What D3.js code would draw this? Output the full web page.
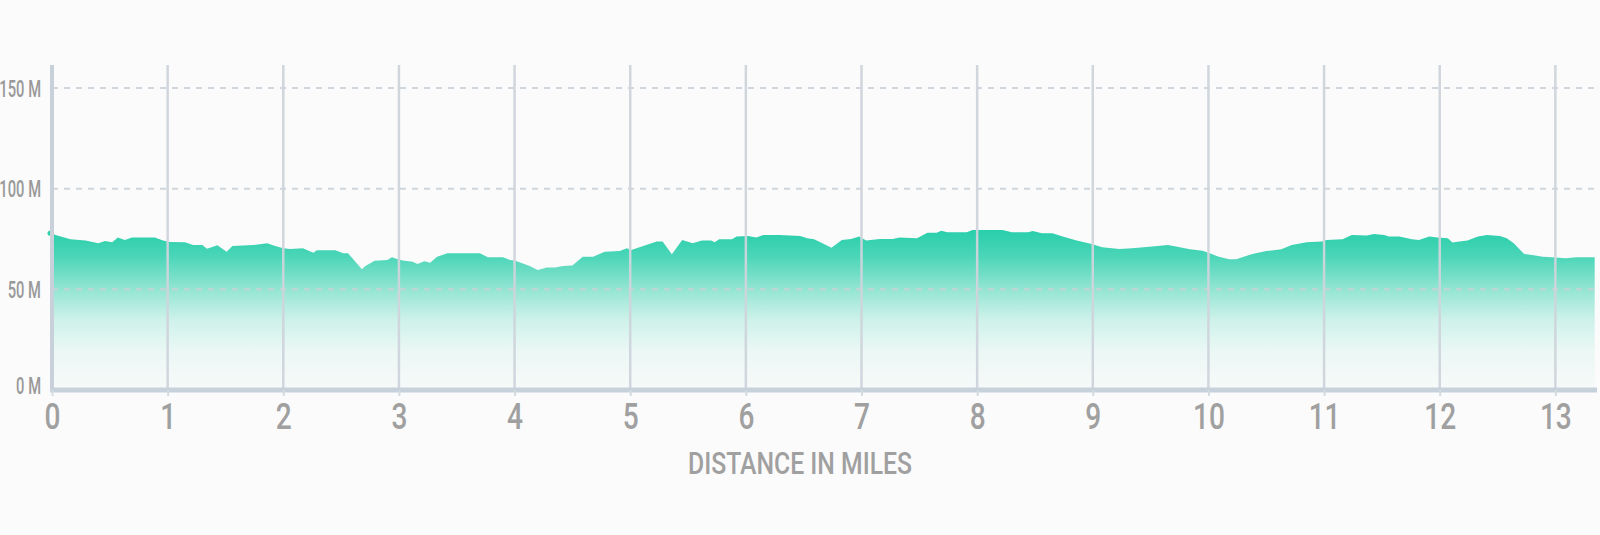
<!DOCTYPE html>
<html>
<head>
<meta charset="utf-8">
<script src="https://cdn.jsdelivr.net/npm/d3@7/dist/d3.min.js"></script>
<style>
  html, body { margin: 0; padding: 0; background: #fbfbfb; }
  svg { display: block; }
  text { font-family: Roboto, "Noto Sans", sans-serif; font-weight: 500; }
</style>
</head>
<body>
<svg id="chart" width="1600" height="535"></svg>
<script>
// Distance along the course (miles)
const miles = [0, 0.03, 0.16, 0.29, 0.40, 0.46, 0.52, 0.57, 0.63, 0.69, 0.89, 0.96, 1.02, 1.15, 1.22, 1.30, 1.34, 1.43, 1.51, 1.56,
  1.74, 1.86, 1.93, 2.00, 2.06, 2.17, 2.26, 2.29, 2.45, 2.52, 2.56, 2.68, 2.71, 2.79, 2.90, 2.94, 2.99, 3.03, 3.12, 3.16,
  3.22, 3.27, 3.33, 3.42, 3.70, 3.77, 3.90, 3.96, 4.00, 4.13, 4.20, 4.28, 4.35, 4.42, 4.50, 4.59, 4.68, 4.78, 4.91, 4.97,
  5.01, 5.08, 5.23, 5.28, 5.36, 5.45, 5.54, 5.62, 5.70, 5.73, 5.77, 5.88, 5.92, 6.02, 6.09, 6.15, 6.29, 6.47, 6.53, 6.59,
  6.64, 6.74, 6.83, 6.91, 6.98, 7.04, 7.16, 7.27, 7.33, 7.48, 7.57, 7.65, 7.69, 7.74, 7.91, 7.96, 8.22, 8.30, 8.44, 8.48,
  8.56, 8.65, 8.74, 8.86, 8.99, 9.08, 9.23, 9.34, 9.49, 9.65, 9.73, 9.84, 9.95, 10.01, 10.09, 10.18, 10.24, 10.38, 10.50, 10.63,
  10.72, 10.85, 10.98, 11.02, 11.16, 11.24, 11.37, 11.43, 11.52, 11.56, 11.65, 11.76, 11.82, 11.91, 11.98, 12.07, 12.11, 12.17, 12.24, 12.33,
  12.41, 12.52, 12.58, 12.64, 12.73, 12.80, 12.89, 12.97, 13.09, 13.18, 13.34];
// Elevation (metres)
const elevation = [77.8, 77.0, 74.9, 74.2, 72.9, 74.0, 73.4, 75.7, 74.5, 75.8, 75.8, 74.2, 73.5, 73.4, 72.0, 72.0, 70.2, 71.9, 68.7, 71.5,
  72.0, 72.9, 71.5, 70.4, 70.0, 70.4, 68.2, 69.4, 69.4, 67.9, 67.9, 60.0, 61.6, 64.2, 64.6, 65.9, 65.0, 64.3, 63.7, 62.6,
  63.9, 63.2, 66.2, 67.9, 67.9, 65.9, 65.9, 64.6, 64.3, 61.6, 59.6, 60.8, 60.8, 61.6, 61.9, 66.2, 66.2, 68.7, 69.0, 70.4,
  69.5, 70.9, 73.7, 73.7, 67.4, 74.5, 72.9, 74.2, 74.2, 73.4, 74.9, 74.9, 76.2, 76.5, 75.7, 77.0, 77.0, 76.5, 75.4, 74.9,
  73.5, 70.7, 74.5, 75.0, 76.2, 74.2, 75.0, 75.0, 75.8, 75.4, 78.1, 78.1, 79.1, 78.3, 78.3, 79.5, 79.5, 78.3, 78.3, 79.0,
  77.8, 77.8, 76.2, 74.2, 72.5, 70.9, 70.0, 70.4, 71.2, 72.0, 71.2, 69.9, 69.2, 67.9, 66.2, 64.9, 64.9, 67.6, 69.0, 69.9,
  72.0, 73.4, 73.7, 74.5, 74.9, 77.0, 76.7, 77.5, 77.0, 76.2, 76.2, 74.9, 74.5, 76.2, 75.7, 75.4, 73.2, 73.7, 74.2, 76.2,
  77.0, 76.5, 75.4, 72.9, 67.6, 67.1, 66.2, 65.9, 65.4, 65.9, 65.9];
const xTicks = [0, 1, 2, 3, 4, 5, 6, 7, 8, 9, 10, 11, 12, 13];
const yTicks = [0, 50, 100, 150];
const xTitle = "DISTANCE IN MILES";

const data = miles.map((m, i) => ({ m, e: elevation[i] }));

const svg = d3.select("#chart");
const mLeft = 52, mRight = 1597, mTop = 65, mBottom = 390;

const x = d3.scaleLinear().domain([0, 13.36]).range([mLeft, mRight]);
const y = d3.scaleLinear().domain([0, 150]).range([mBottom, 88]);

// condense helper: squeeze glyphs horizontally
function condense(sel, factor) {
  sel.each(function () {
    const w = this.getComputedTextLength();
    d3.select(this).attr("textLength", w * factor).attr("lengthAdjust", "spacingAndGlyphs");
  });
}

// gradient
const defs = svg.append("defs");
const grad = defs.append("linearGradient")
  .attr("id", "fillGrad")
  .attr("gradientUnits", "userSpaceOnUse")
  .attr("x1", 0).attr("x2", 0)
  .attr("y1", y(78)).attr("y2", y(0));
[[0, 1], [0.15, 0.85], [0.36, 0.5], [0.55, 0.22], [0.75, 0.08], [1, 0.02]].forEach(([o, op]) => {
  grad.append("stop").attr("offset", o).attr("stop-color", "#2ccfac").attr("stop-opacity", op);
});

// area
const area = d3.area()
  .x(d => x(d.m))
  .y0(y(0))
  .y1(d => y(d.e))
  .curve(d3.curveLinear);

svg.append("path")
  .datum(data)
  .attr("d", area)
  .attr("fill", "url(#fillGrad)");

// horizontal dashed grid
svg.append("g")
  .selectAll("line")
  .data(yTicks.filter(t => t > 0))
  .join("line")
  .attr("x1", mLeft).attr("x2", mRight)
  .attr("y1", d => y(d)).attr("y2", d => y(d))
  .attr("stroke", "#cbd2da")
  .attr("stroke-width", 2)
  .attr("stroke-dasharray", "6,6")
  .attr("opacity", 0.9);

// vertical grid
svg.append("g")
  .selectAll("line")
  .data(xTicks.filter(t => t > 0))
  .join("line")
  .attr("x1", d => x(d)).attr("x2", d => x(d))
  .attr("y1", mTop).attr("y2", mBottom)
  .attr("stroke", "#cfd5dc")
  .attr("stroke-width", 2.5)
  .attr("opacity", 0.95);

// start dot
svg.append("circle")
  .attr("cx", x(0) - 2).attr("cy", y(elevation[0]))
  .attr("r", 2.5).attr("fill", "#2ccfac");

// x axis
const xAxis = d3.axisBottom(x).tickValues(xTicks).tickSize(6).tickSizeOuter(0).tickFormat(d3.format("d"));
const gx = svg.append("g").attr("transform", `translate(0,${mBottom})`).call(xAxis);
gx.select(".domain").attr("stroke", "#c6d1db").attr("stroke-width", 5)
  .attr("d", `M${mLeft - 2},0H${mRight}`);
gx.selectAll(".tick line").attr("stroke", "#d3dae0").attr("stroke-width", 2);
gx.selectAll(".tick text")
  .attr("fill", "#a0a0a0")
  .attr("font-size", 36)
  .attr("dy", 0)
  .attr("y", 39)
  .attr("font-family", null)
  .call(condense, 0.78);

// y axis
const yAxis = d3.axisLeft(y).tickValues(yTicks).tickSize(0).tickFormat(d => d + " M");
const gy = svg.append("g").attr("transform", `translate(${mLeft},0)`).call(yAxis);
gy.select(".domain").attr("stroke", "#c8d0da").attr("stroke-width", 4)
  .attr("d", `M0,${mTop}V${mBottom}`);
gy.selectAll(".tick text")
  .attr("fill", "#999999")
  .attr("font-size", 23)
  .attr("x", -11)
  .attr("y", d => (d === 0 ? -5 : 0))
  .attr("dy", "0.35em")
  .attr("font-family", null)
  .call(condense, 0.64);

// x title
svg.append("text")
  .attr("x", 800).attr("y", 474)
  .attr("text-anchor", "middle")
  .attr("fill", "#a0a0a0")
  .attr("font-size", 32)
  .attr("textLength", 224)
  .attr("lengthAdjust", "spacingAndGlyphs")
  .text(xTitle);
</script>
</body>
</html>
